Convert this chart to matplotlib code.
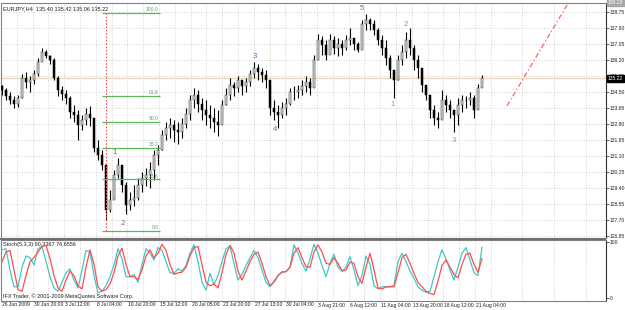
import matplotlib

matplotlib.use("Agg")
import matplotlib.pyplot as plt
import numpy as np

plt.rcParams["font.family"] = ["Liberation Sans", "DejaVu Sans"]

# EURJPY H4, one entry per 2 H4 bars
HIGH = [134.87, 134.71, 134.50, 134.29, 134.34, 135.46, 135.57, 135.35, 135.67, 136.31,
        136.84, 136.73, 136.47, 136.31, 135.35, 134.82, 134.61, 134.29, 133.81, 133.55,
        133.28, 133.65, 133.76, 132.75, 131.95, 131.42, 130.62, 129.30, 130.36, 130.98,
        130.62, 129.72, 129.19, 129.56, 129.93, 130.25, 130.46, 130.78, 131.42, 131.69,
        132.48, 132.91, 133.12, 133.02, 132.91, 133.12, 133.65, 134.34, 134.71, 134.61,
        134.18, 134.08, 133.81, 133.65, 133.55, 134.08, 134.71, 135.25, 135.03, 135.35,
        135.14, 135.25, 135.67, 136.10, 135.99, 135.78, 135.67, 134.87, 134.08, 133.81,
        133.97, 134.18, 134.71, 134.82, 134.87, 135.14, 135.35, 135.25, 136.47, 137.58,
        137.48, 137.26, 137.58, 137.48, 137.37, 137.26, 137.53, 137.90, 137.37, 137.16,
        138.33, 138.65, 138.43, 138.33, 137.90, 137.53, 137.26, 136.47, 135.67, 136.47,
        137.00, 137.69, 137.90, 137.00, 136.47, 135.78, 134.87, 134.18, 133.81, 133.44,
        134.61, 134.34, 134.08, 133.55, 134.18, 134.34, 134.29, 134.50, 134.34, 134.93,
        135.42]
LOW = [134.34, 134.08, 133.86, 133.65, 133.71, 134.18, 134.71, 134.50, 134.93, 135.35,
       136.20, 136.31, 135.99, 135.14, 134.29, 134.08, 133.86, 133.12, 132.91, 131.95,
       132.48, 132.75, 132.70, 131.32, 130.89, 130.36, 127.70, 128.13, 128.87, 129.93,
       129.19, 128.02, 128.23, 128.45, 128.76, 129.19, 129.51, 129.40, 129.83, 130.62,
       131.42, 131.95, 132.06, 131.85, 131.74, 132.06, 132.59, 133.02, 133.65, 133.44,
       133.02, 132.75, 132.59, 132.38, 132.17, 133.02, 133.81, 134.08, 134.29, 134.50,
       134.34, 134.50, 134.82, 135.25, 135.14, 135.03, 134.71, 133.28, 133.02, 132.59,
       133.12, 133.28, 133.81, 134.08, 134.18, 134.34, 134.50, 134.34, 135.14, 136.31,
       136.47, 136.20, 136.63, 136.52, 136.42, 136.47, 136.73, 137.00, 136.73, 136.63,
       136.84, 137.80, 137.80, 137.53, 137.00, 136.47, 135.94, 135.25, 134.18, 135.14,
       135.94, 136.31, 136.47, 135.67, 135.25, 134.50, 134.08, 133.12, 132.75, 132.59,
       133.12, 133.44, 133.12, 132.38, 132.75, 133.44, 133.65, 133.81, 133.12, 133.97,
       135.06]
CLOSE = [134.61, 134.29, 134.08, 133.86, 134.18, 135.25, 135.03, 135.14, 135.46, 136.10,
         136.63, 136.42, 136.20, 135.25, 134.61, 134.40, 134.18, 133.44, 133.28, 132.75,
         133.02, 133.33, 133.12, 131.53, 131.16, 130.62, 128.23, 128.76, 130.09, 130.62,
         129.56, 128.50, 128.76, 128.87, 129.56, 129.93, 130.09, 130.36, 131.16, 131.42,
         132.22, 132.59, 132.75, 132.48, 132.38, 132.80, 133.33, 134.08, 134.34, 133.86,
         133.55, 133.28, 133.12, 132.91, 132.75, 133.81, 134.34, 134.87, 134.71, 135.14,
         134.82, 135.03, 135.46, 135.78, 135.57, 135.41, 135.14, 133.65, 133.44, 133.28,
         133.65, 133.86, 134.50, 134.50, 134.61, 134.82, 135.03, 134.71, 136.20, 137.26,
         137.00, 136.47, 137.26, 136.84, 137.05, 136.84, 137.26, 137.37, 137.05, 136.73,
         138.11, 138.33, 138.11, 137.80, 137.26, 136.84, 136.31, 135.67, 135.14, 136.20,
         136.63, 137.26, 136.84, 136.20, 135.78, 134.87, 134.34, 133.55, 133.12, 133.02,
         134.08, 133.81, 133.55, 133.28, 133.81, 134.08, 134.08, 134.18, 133.55, 134.71,
         135.22]
OPEN_FIRST = 134.80

# Stochastic(5,3,3): main (%K) and signal (%D)
STOCH_MAIN = [86, 88, 50, 20, 20, 55, 75, 72, 59, 88, 92, 65, 38, 18, 12, 28, 45, 52, 32, 18,
              50, 85, 82, 40, 9, 12, 22, 38, 59, 88, 70, 38, 38, 42, 28, 60, 88, 80, 68, 90,
              85, 65, 45, 44, 52, 48, 58, 80, 95, 65, 28, 14, 44, 24, 40, 65, 88, 92, 62, 32,
              42, 58, 72, 85, 72, 50, 28, 20, 30, 40, 47, 47, 55, 95, 80, 62, 48, 70, 96, 80,
              58, 38, 62, 78, 55, 48, 55, 74, 50, 22, 40, 75, 60, 22, 16, 20, 20, 20, 22, 65,
              80, 65, 48, 35, 20, 14, 10, 12, 38, 65, 86, 70, 50, 32, 55, 80, 90, 68, 45, 40,
              90.34]
STOCH_SIGNAL = [65, 82, 85, 50, 15, 12, 40, 65, 72, 82, 92, 94, 70, 40, 18, 12, 32, 48, 40, 22,
                16, 55, 86, 60, 20, 12, 15, 25, 45, 75, 89, 60, 38, 38, 33, 50, 75, 86, 72, 80,
                96, 85, 60, 42, 45, 46, 55, 75, 90, 92, 60, 28, 22, 25, 18, 45, 78, 94, 80, 48,
                32, 48, 65, 78, 82, 62, 38, 22, 28, 40, 46, 47, 55, 80, 90, 72, 56, 55, 82, 95,
                82, 62, 60, 72, 62, 48, 50, 64, 62, 38, 26, 55, 80, 50, 18, 16, 20, 20, 20, 45,
                72, 78, 62, 44, 28, 20, 12, 8, 6, 30, 58, 68, 55, 42, 36, 60, 78, 80, 60, 46,
                70]

PRICE_TICKS = [138.75, 137.90, 137.05, 136.20, 135.35, 134.50, 133.65, 132.80, 131.95,
               131.10, 130.25, 129.40, 128.55, 127.70, 126.85]
DATE_LABELS = ["26 Jun 2009", "30 Jun 20:00", "3 Jul 12:00", "8 Jul 04:00", "10 Jul 20:00",
               "15 Jul 12:00", "20 Jul 05:00", "22 Jul 20:00", "27 Jul 13:00", "30 Jul 04:00",
               "3 Aug 21:00", "6 Aug 12:00", "11 Aug 04:00", "13 Aug 20:00", "18 Aug 12:00",
               "21 Aug 04:00"]

# Fibonacci retracement anchors (bar index, price)
FIB_START, FIB_END = 25, 39.5
FIB_LOW, FIB_HIGH = 127.12, 138.70
FIB_LEVELS = [0.0, 23.6, 38.2, 50.0, 61.8, 100.0]
FIB_VLINE_BAR = 26

# Elliott wave labels
WAVE_A_TEXT = ["1", "2", "3", "4", "5"]
WAVE_A_BAR = [28.25, 30.25, 63.25, 68.25, 90.0]
WAVE_A_PRICE = [131.26, 127.49, 136.36, 132.53, 138.96]
WAVE_B_TEXT = ["1", "2", "3"]
WAVE_B_BAR = [97.75, 101.0, 113.0]
WAVE_B_PRICE = [133.86, 138.11, 131.90]

# Red trend line
TREND_BARS = [126.25, 142.0]
TREND_PRICES = [133.76, 139.39]

LAST_PRICE = 135.22
TOP_PRICE = 139.23

W, H = 625, 310
FS = 3.6
GRID = "#c4c4c4"


def px_axes(fig, x0, y0, x1, y1):
    return fig.add_axes([x0 / W, 1 - y1 / H, (x1 - x0) / W, (y1 - y0) / H])


def px_to_bar(p):
    return (p - 2) / 4.0


fig = plt.figure(figsize=(W / 100, H / 100), dpi=100)
fig.patch.set_facecolor("white")

ax = px_axes(fig, 1, 3, 606, 238)
st = px_axes(fig, 1, 240, 606, 301)

x = np.arange(len(CLOSE))
opens = np.concatenate([[OPEN_FIRST], CLOSE[:-1]])
close = np.array(CLOSE)

grid_px = [1 + 15.8 * k for k in range(39)]
label_px = grid_px[::2][:len(DATE_LABELS)]

for a in (ax, st):
    a.set_xlim(px_to_bar(1), px_to_bar(606))
    a.set_xticks([px_to_bar(p) for p in label_px])
    a.set_xticks([px_to_bar(p) for p in grid_px[1::2]], minor=True)
    a.grid(True, axis="x", which="both", ls=(0, (1, 2)), color=GRID, lw=0.6)
    a.set_axisbelow(True)
    for s in a.spines.values():
        s.set_color("#808080")
        s.set_linewidth(0.8)
    a.spines["right"].set_color("#303030")
    a.yaxis.tick_right()
    a.tick_params(axis="y", labelsize=FS, length=2, width=0.5, pad=0.6, colors="#202020")
    a.tick_params(axis="x", which="both", length=0, labelbottom=False)

# main price pane
ax.set_ylim(126.744, 139.228)
ax.set_yticks(PRICE_TICKS)
ax.set_yticklabels([f"{t:.2f}" for t in PRICE_TICKS])
ax.grid(True, axis="y", ls=(0, (1, 2)), color=GRID, lw=0.6)

ax.axhline(LAST_PRICE, color="#ead9bd", lw=1.0, zorder=1)

ax.vlines(x, LOW, HIGH, color="black", lw=0.8, zorder=3)
up = close >= opens
ax.bar(x[up], (close - opens)[up], bottom=opens[up], width=0.5,
       color="#d8d8d8", edgecolor="#303030", lw=0.35, zorder=4)
ax.bar(x[~up], (close - opens)[~up], bottom=opens[~up], width=0.5,
       color="black", edgecolor="black", lw=0.35, zorder=4)

# fibonacci
fib_prices = [FIB_LOW + (FIB_HIGH - FIB_LOW) * lv / 100 for lv in FIB_LEVELS]
ax.hlines(fib_prices, FIB_START, FIB_END, color="#5cb85c", lw=0.9, zorder=5)
for lv, p in zip(FIB_LEVELS, fib_prices):
    ax.text(FIB_END - 0.3, p + 0.05, f"{lv:.1f}", color="#4caf50", fontsize=3.6,
            ha="right", va="bottom", zorder=6)
ax.vlines(FIB_VLINE_BAR, FIB_LOW, FIB_HIGH, color="#ff5050", lw=0.8,
          linestyles=(0, (1.5, 1.5)), zorder=5)

# trend line
ax.plot(TREND_BARS, TREND_PRICES, color="#ff6060", lw=0.9, ls=(0, (4, 2, 1, 2)), zorder=5)

for t, b, p in zip(WAVE_A_TEXT, WAVE_A_BAR, WAVE_A_PRICE):
    ax.text(b, p, t, color="#8a4fb0", fontsize=5.5, ha="center", va="center", zorder=6)
for t, b, p in zip(WAVE_B_TEXT, WAVE_B_BAR, WAVE_B_PRICE):
    ax.text(b, p, t, color="#d08838", fontsize=5.5, ha="center", va="center", zorder=6)

ax.text(0.004, 0.985, "EURJPY,H4  135.40 135.42 135.06 135.22", transform=ax.transAxes,
        fontsize=4.0, ha="left", va="top", color="#202020")

# price tags on the scale
ax.text(1.003, LAST_PRICE, f"{LAST_PRICE:.2f}", transform=ax.get_yaxis_transform(),
        fontsize=FS, ha="left", va="center", color="white", zorder=10, clip_on=False,
        bbox=dict(boxstyle="square,pad=0.2", fc="black", ec="black"))
ax.text(1.003, TOP_PRICE, f"{TOP_PRICE:.2f}", transform=ax.get_yaxis_transform(),
        fontsize=FS, ha="left", va="center", color="white", zorder=10, clip_on=False,
        bbox=dict(boxstyle="square,pad=0.2", fc="#a8a8a8", ec="#a8a8a8"))

# stochastic pane
st.set_ylim(-5.4, 103.6)
st.set_yticks([100, 0])
st.set_yticklabels(["100", "0"])
st.plot(x, STOCH_MAIN, color="#40c8c8", lw=0.9, zorder=3)
st.plot(x, STOCH_SIGNAL, color="#ff4d4d", lw=0.9, zorder=4)
st.text(0.004, 0.96, "Stoch(5,3,3) 90.3367 76.6556", transform=st.transAxes,
        fontsize=4.0, ha="left", va="top", color="#202020")
st.text(0.004, 0.04, "IFX Trader, \u00a9 2001-2009 MetaQuotes Software Corp.",
        transform=st.transAxes, fontsize=4.0, ha="left", va="bottom", color="#202020")

# pane separator
fig.add_artist(plt.Rectangle((0, 1 - 240 / H), 606 / W, 2 / H, transform=fig.transFigure,
                             color="#707070", lw=0))

for p, lab in zip(label_px, DATE_LABELS):
    fig.text((p + 1) / W, 1 - 305 / H, lab, fontsize=FS, ha="left", va="center", color="#202020")

fig.savefig("out.png", dpi=100)
